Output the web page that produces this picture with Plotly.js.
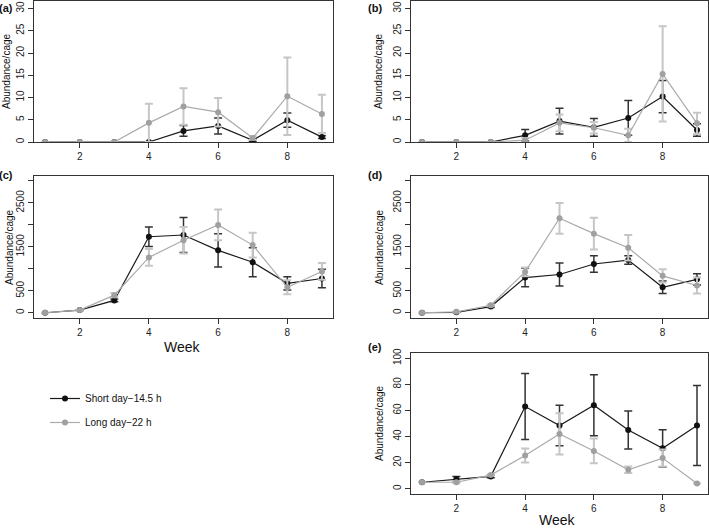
<!DOCTYPE html>
<html>
<head>
<meta charset="utf-8">
<script src="https://cdn.plot.ly/plotly-3.0.1.min.js"></script>
<style>
  body { margin: 0; background: #fff; }
  #chart { width: 709px; height: 530px; }
</style>
</head>
<body>
<div id="chart"></div>
<script>
// weeks of sampling
const weeks = [1, 2, 3, 4, 5, 6, 7, 8, 9];

// (a)
const aShort = [0, 0, 0, 0, 2.5, 3.6, 0.4, 4.9, 1.1];
const aShortSE = [0, 0, 0, 0, 1.2, 1.8, 0.3, 1.6, 0.3];
const aLong = [0, 0, 0, 4.3, 8.0, 6.7, 0.9, 10.3, 6.3];
const aLongSE = [0, 0, 0, 4.3, 4.1, 3.2, 0.4, 8.7, 4.3];

// (b)
const bShort = [0, 0, 0, 1.5, 4.7, 3.3, 5.4, 10.2, 2.7];
const bShortSE = [0, 0, 0, 1.3, 2.9, 2.0, 3.9, 3.6, 1.4];
const bLong = [0, 0, 0, 0.4, 4.3, 3.2, 1.5, 15.3, 4.2];
const bLongSE = [0, 0, 0, 0.5, 1.9, 1.3, 1.5, 10.7, 2.4];

// (c)
const cShort = [0, 60, 280, 1730, 1770, 1420, 1150, 670, 780];
const cShortSE = [0, 10, 30, 220, 400, 380, 330, 150, 210];
const cLong = [0, 60, 400, 1260, 1650, 2000, 1540, 580, 940];
const cLongSE = [0, 10, 50, 190, 300, 350, 280, 160, 190];

// (d)
const dShort = [0, 10, 140, 800, 870, 1110, 1200, 580, 760];
const dShortSE = [0, 5, 20, 210, 260, 190, 95, 140, 130];
const dLong = [0, 20, 170, 930, 2150, 1800, 1480, 840, 620];
const dLongSE = [0, 5, 20, 100, 350, 360, 290, 150, 180];

// (e)
const eShort = [5, 7.5, 9.5, 63, 48.5, 64, 45, 31, 48.5];
const eShortSE = [0, 2, 1, 25.3, 15.5, 23.4, 14.5, 14.3, 30.7];
const eLong = [5, 5, 10.5, 25.5, 42, 29, 14.5, 23.5, 4];
const eLongSE = [0, 0.8, 0.5, 5.3, 15.8, 9.5, 2.5, 6.5, 0];

const shortName = 'Short day\u221214.5 h';
const longName = 'Long day\u221222 h';

const FONT = '"Liberation Sans", Arial, sans-serif';

function makeTraces(sfx, shortY, shortSE, longY, longSE, showLeg) {
    const shortTrace = {
        x: weeks, y: shortY,
        xaxis: 'x' + sfx, yaxis: 'y' + sfx,
        mode: 'lines+markers', type: 'scatter',
        name: shortName, legendgroup: 'short', showlegend: showLeg,
        line: { color: '#1a1a1a', width: 1.2 },
        marker: { color: '#111111', size: 6 },
        error_y: { type: 'data', array: shortSE, visible: true,
                   color: '#333333', thickness: 1.5, width: 4 },
        hoverinfo: 'skip'
    };
    const longTrace = {
        x: weeks, y: longY,
        xaxis: 'x' + sfx, yaxis: 'y' + sfx,
        mode: 'lines+markers', type: 'scatter',
        name: longName, legendgroup: 'long', showlegend: showLeg,
        line: { color: '#ababab', width: 1.2 },
        marker: { color: '#a0a0a0', size: 6 },
        error_y: { type: 'data', array: longSE, visible: true,
                   color: '#c6c6c6', thickness: 2, width: 4 },
        hoverinfo: 'skip'
    };
    return [shortTrace, longTrace];
}

const data = [].concat(
    makeTraces('', aShort, aShortSE, aLong, aLongSE, true),
    makeTraces('2', bShort, bShortSE, bLong, bLongSE, false),
    makeTraces('3', cShort, cShortSE, cLong, cLongSE, false),
    makeTraces('4', dShort, dShortSE, dLong, dLongSE, false),
    makeTraces('5', eShort, eShortSE, eLong, eLongSE, false)
);

const W = 709, H = 530;
const colL = [34 / W, 333 / W];
const colR = [411 / W, 708 / W];
const row1 = [1 - 142 / H, 1 - 0.5 / H];
const row2 = [1 - 318 / H, 1 - 175.7 / H];
const row3 = [1 - 494 / H, 1 - 353 / H];

function xAx(dom, anchor) {
    return {
        domain: dom, anchor: anchor, range: [0.68, 9.32],
        tickmode: 'array', tickvals: [2, 4, 6, 8],
        ticks: 'outside', ticklen: 5, tickwidth: 1, tickcolor: '#333',
        showline: true, mirror: true, linecolor: '#333', linewidth: 1,
        showgrid: false, zeroline: false,
        tickfont: { family: FONT, size: 10, color: '#222' }
    };
}

function yAx(dom, anchor, range, vals, text) {
    return {
        domain: dom, anchor: anchor, range: range,
        tickmode: 'array', tickvals: vals, ticktext: text, tickangle: -90,
        ticks: 'outside', ticklen: 5, tickwidth: 1, tickcolor: '#333',
        ticklabeloverflow: 'allow',
        showline: true, mirror: true, linecolor: '#333', linewidth: 1,
        showgrid: false, zeroline: false,
        tickfont: { family: FONT, size: 10, color: '#222' }
    };
}

const smallVals = [0, 5, 10, 15, 20, 25, 30];
const smallText = ['0', '5', '10', '15', '20', '25', '30'];
const bigVals = [0, 500, 1000, 1500, 2000, 2500, 3000];
const bigText = ['0', '500', '', '1500', '', '2500', ''];
const eVals = [0, 20, 40, 60, 80, 100];
const eText = ['0', '20', '40', '60', '80', '100'];

function lab(text, x, y, size, bold, angle) {
    return {
        text: bold ? '<b>' + text + '</b>' : text,
        xref: 'paper', yref: 'paper', x: x / W, y: 1 - y / H,
        xanchor: 'center', yanchor: 'middle', showarrow: false,
        textangle: angle || 0,
        font: { family: FONT, size: size, color: '#111' }
    };
}

const layout = {
    width: W, height: H,
    margin: { l: 0, r: 0, t: 0, b: 0 },
    paper_bgcolor: '#fff', plot_bgcolor: '#fff',
    font: { family: FONT, color: '#111' },
    xaxis: xAx(colL, 'y'),
    yaxis: yAx(row1, 'x', [0, 31.8], smallVals, smallText),
    xaxis2: xAx(colR, 'y2'),
    yaxis2: yAx(row1, 'x2', [0, 31.8], smallVals, smallText),
    xaxis3: xAx(colL, 'y3'),
    yaxis3: yAx(row2, 'x3', [-120, 3120], bigVals, bigText),
    xaxis4: xAx(colR, 'y4'),
    yaxis4: yAx(row2, 'x4', [-120, 3120], bigVals, bigText),
    xaxis5: xAx(colR, 'y5'),
    yaxis5: yAx(row3, 'x5', [-4, 104], eVals, eText),
    showlegend: true,
    legend: {
        x: 45 / W, y: 1 - 384 / H, xanchor: 'left', yanchor: 'top',
        bgcolor: 'rgba(0,0,0,0)', borderwidth: 0,
        traceorder: 'grouped', tracegroupgap: 5, itemwidth: 30,
        font: { family: FONT, size: 10, color: '#111' }
    },
    annotations: [
        lab('(a)', 6, 8, 11, true),
        lab('(b)', 375, 8, 11, true),
        lab('(c)', 6, 175, 11, true),
        lab('(d)', 375, 175, 11, true),
        lab('(e)', 375, 347, 11, true),
        lab('Abundance/cage', 7, 71, 10, false, -90),
        lab('Abundance/cage', 379, 71, 10, false, -90),
        lab('Abundance/cage', 9, 247, 10, false, -90),
        lab('Abundance/cage', 379, 247, 10, false, -90),
        lab('Abundance/cage', 379, 423, 10, false, -90),
        lab('Week', 182, 347, 14, false),
        lab('Week', 557, 520, 14, false)
    ]
};

Plotly.newPlot('chart', data, layout, { displayModeBar: false, staticPlot: true });
</script>
</body>
</html>
